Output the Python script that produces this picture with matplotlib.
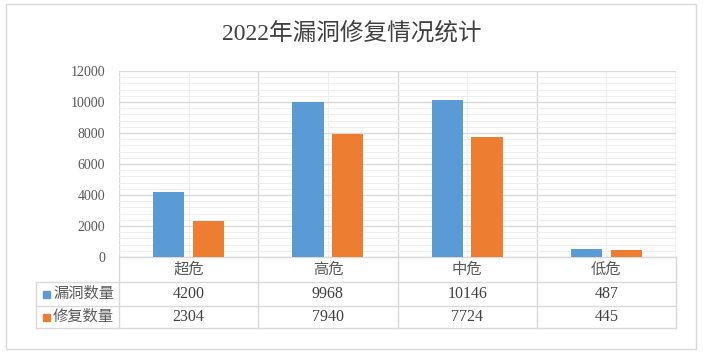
import numpy as np
import matplotlib
matplotlib.use("Agg")
import matplotlib.pyplot as plt
from matplotlib.patches import Rectangle
from matplotlib.transforms import blended_transform_factory

plt.rcParams['font.family'] = ['Liberation Serif', 'Noto Sans CJK SC', 'DejaVu Sans']

title = "2022年漏洞修复情况统计"
categories = ["超危", "高危", "中危", "低危"]
series_names = ["漏洞数量", "修复数量"]
vulns = [4200, 9968, 10146, 487]
fixed = [2304, 7940, 7724, 445]
colors = ["#5B9BD5", "#ED7D31"]

grid_major = "#d9d9d9"
grid_minor = "#eeeeee"
text_col = "#595959"

W, H = 703, 354
fig = plt.figure(figsize=(W / 100, H / 100), dpi=100)
ax = fig.add_axes([119 / W, 1 - 257 / H, (676 - 119) / W, (257 - 71) / H])

x = np.arange(len(categories))
bw = 0.225
off = 0.143
ax.bar(x - off, vulns, bw, color=colors[0], zorder=3)
ax.bar(x + off, fixed, bw, color=colors[1], zorder=3)

ax.set_xlim(-0.5, len(categories) - 0.5)
ax.set_ylim(0, 12000)
ax.set_yticks(np.arange(0, 12001, 2000))
ax.set_yticks(np.arange(0, 12001, 400), minor=True)
ax.set_xticks(np.arange(-0.5, len(categories), 1))
ax.set_xticks(x, minor=True)
ax.set_xticklabels([])
ax.grid(which="major", color=grid_major, lw=1, zorder=0)
ax.grid(which="minor", color=grid_minor, lw=0.8, zorder=0)
ax.tick_params(which="both", length=0)
ax.tick_params(axis="y", labelsize=10, labelcolor=text_col, pad=10)
for s in ax.spines.values():
    s.set_visible(False)

fig.text(0.5, 1 - 33 / H, title, ha="center", va="center", fontsize=17, color="#404040")

# data table under the plot
tr = blended_transform_factory(ax.transData, ax.transAxes)
def py(px):
    return (257 - px) / 186.0
left = -0.5 - (119 - 36) / 139.25
right = len(categories) - 0.5
rows = [257, 282, 305.5, 328]

ax.plot([-0.5, right], [py(rows[0])] * 2, color=grid_major, lw=1, transform=tr, clip_on=False)
for r in rows[1:]:
    ax.plot([left, right], [py(r)] * 2, color=grid_major, lw=1, transform=tr, clip_on=False)
for b in np.arange(-0.5, len(categories), 1):
    ax.plot([b, b], [py(257), py(328)], color=grid_major, lw=1, transform=tr, clip_on=False)
ax.plot([left, left], [py(282), py(328)], color=grid_major, lw=1, transform=tr, clip_on=False)

for i, c in enumerate(categories):
    ax.text(i, py(269.5), c, ha="center", va="center", fontsize=11, color=text_col,
            transform=tr, clip_on=False)
    ax.text(i, py(294), str(vulns[i]), ha="center", va="center", fontsize=11.5,
            color="#404040", transform=tr, clip_on=False)
    ax.text(i, py(317), str(fixed[i]), ha="center", va="center", fontsize=11.5,
            color="#404040", transform=tr, clip_on=False)

sq_w = 7 / 139.25
sq_h = 7 / 186.0
sq_x = -0.5 - (119 - 43) / 139.25
txt_x = -0.5 - (119 - 53) / 139.25
for name, col, yc in zip(series_names, colors, [294, 317]):
    ax.add_patch(Rectangle((sq_x, py(yc) - sq_h / 2), sq_w, sq_h, color=col,
                           transform=tr, clip_on=False))
    ax.text(txt_x, py(yc), name, ha="left", va="center", fontsize=11, color=text_col,
            transform=tr, clip_on=False)

# chart border
fig.patches.append(Rectangle((6 / W, 1 - 349 / H), (696 - 6) / W, (349 - 4) / H,
                             transform=fig.transFigure, fill=False, ec=grid_major, lw=1))

fig.savefig("out.png", dpi=100)
